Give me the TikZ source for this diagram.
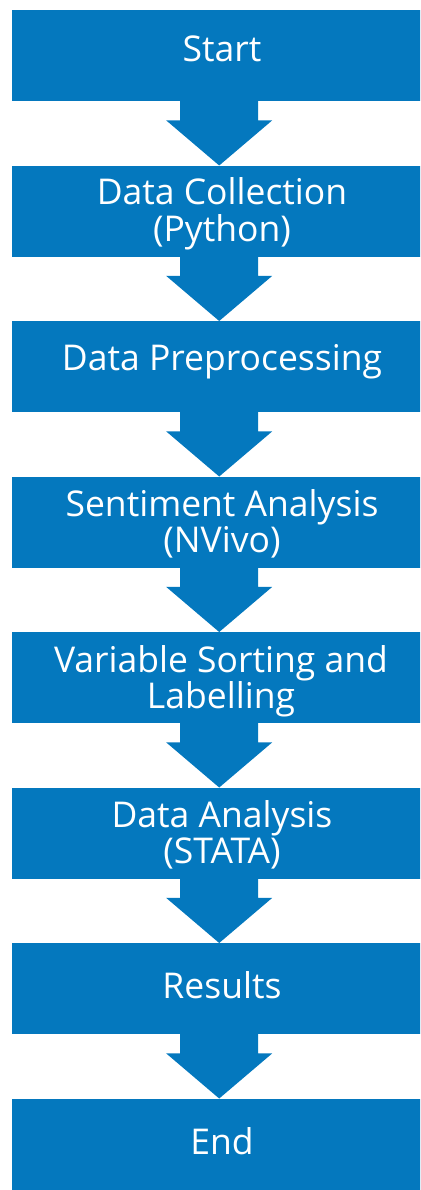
\documentclass[tikz,border=0pt]{standalone}
\usepackage{fontspec}
\setmainfont{Open Sans}
\usetikzlibrary{calc}
\definecolor{flowblue}{RGB}{4,120,190}
\tikzset{
  stepbox/.style={fill=flowblue, draw=none, rectangle, inner sep=0pt, minimum width=414pt, minimum height=91pt, anchor=north west},
  lbl/.style={text=white, inner sep=0pt, align=center, anchor=base, font={\fontsize{35.5}{36}\selectfont}},
}
\newcommand{\flowarrow}[2]{%
  \fill[flowblue] ($(#1.south)+(-39,-1)$) -- ($(#1.south)+(39,-1)$) -- ($(#1.south)+(39,19)$) -- ($(#1.south)+(53,19)$) -- (#2.north) -- ($(#1.south)+(-53,19)$) -- ($(#1.south)+(-39,19)$) -- cycle;%
}
\begin{document}
\begin{tikzpicture}[x=1pt,y=-1pt]
\useasboundingbox (0,0) rectangle (420,1190);
\begin{scope}
\clip (0,0) rectangle (420,1190);
\node[stepbox] (b1) at (12,10) {};
\node[stepbox] (b2) at (12,165.5) {};
\node[stepbox] (b3) at (12,321) {};
\node[stepbox] (b4) at (12,476.5) {};
\node[stepbox] (b5) at (12,632) {};
\node[stepbox] (b6) at (12,787.5) {};
\node[stepbox] (b7) at (12,943) {};
\node[stepbox] (b8) at (12,1098.5) {};
\flowarrow{b1}{b2}
\flowarrow{b2}{b3}
\flowarrow{b3}{b4}
\flowarrow{b4}{b5}
\flowarrow{b5}{b6}
\flowarrow{b6}{b7}
\flowarrow{b7}{b8}
\end{scope}
\node[lbl] (t1) at (222,62) {Start};
\node[lbl] (t2) at (222,241) {Data Collection\\(Python)};
\node[lbl] (t3) at (222,370) {Data Preprocessing};
\node[lbl] (t4) at (222,552) {Sentiment Analysis\\(NVivo)};
\node[lbl] (t5) at (221,708) {Variable Sorting and\\Labelling};
\node[lbl] (t6) at (222,863) {Data Analysis\\(STATA)};
\node[lbl] (t7) at (222,998) {Results};
\node[lbl] (t8) at (222,1154) {End};
\end{tikzpicture}
\end{document}
